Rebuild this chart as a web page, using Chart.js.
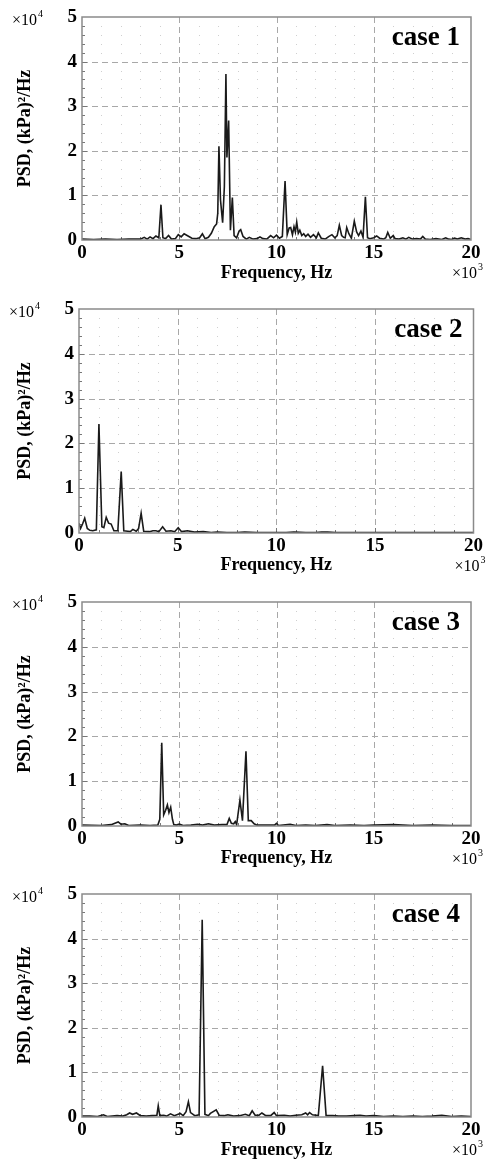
<!DOCTYPE html>
<html>
<head>
<meta charset="utf-8">
<script src="https://cdn.jsdelivr.net/npm/chart.js@4.4.0/dist/chart.umd.min.js"></script>
<style>
  html, body { margin: 0; padding: 0; background: #fff; overflow: hidden; }
  .panel { position: absolute; left: 0; width: 486px; height: 283px; }
</style>
</head>
<body>
<div class="panel" id="p0"><canvas id="c0" width="486" height="283"></canvas></div>
<div class="panel" id="p1"><canvas id="c1" width="486" height="283"></canvas></div>
<div class="panel" id="p2"><canvas id="c2" width="486" height="283"></canvas></div>
<div class="panel" id="p3"><canvas id="c3" width="486" height="283"></canvas></div>
<script>
// labels and ticks
const caseNames = ['case 1', 'case 2', 'case 3', 'case 4'];
const xTicks = [0, 5, 10, 15, 20];      // frequency, x10^3 Hz
const yTicks = [0, 1, 2, 3, 4, 5];      // PSD, x10^4 (kPa)^2/Hz

// [frequency (kHz), PSD (x10^4)]
const case1 = [
  [0, 0.02], [0.6, 0.01], [1.2, 0.02], [1.8, 0.01], [2.4, 0.02], [3.0, 0.02], [3.2, 0.06], [3.35, 0.02],
  [3.5, 0.07], [3.65, 0.03], [3.8, 0.09], [3.95, 0.05], [4.06, 0.79], [4.16, 0.05], [4.3, 0.03], [4.45, 0.1],
  [4.6, 0.02], [4.8, 0.03], [4.95, 0.12], [5.1, 0.07], [5.25, 0.14], [5.45, 0.09], [5.65, 0.04], [5.85, 0.03],
  [6.05, 0.05], [6.19, 0.14], [6.33, 0.03], [6.5, 0.06], [6.65, 0.15], [6.8, 0.3], [6.92, 0.36], [6.98, 0.6],
  [7.04, 2.1], [7.12, 0.9], [7.23, 0.39], [7.32, 1.2], [7.40, 3.72], [7.45, 1.85], [7.54, 2.68], [7.63, 0.22],
  [7.73, 0.95], [7.82, 0.1], [7.95, 0.05], [8.08, 0.2], [8.16, 0.23], [8.28, 0.08], [8.45, 0.02], [8.6, 0.06],
  [8.8, 0.02], [9.0, 0.03], [9.15, 0.07], [9.3, 0.03], [9.5, 0.02], [9.7, 0.1], [9.85, 0.05], [10.0, 0.11],
  [10.15, 0.04], [10.3, 0.08], [10.44, 1.32], [10.55, 0.12], [10.65, 0.27], [10.73, 0.28], [10.82, 0.12], [10.9, 0.3],
  [10.97, 0.18], [11.04, 0.4], [11.12, 0.15], [11.2, 0.22], [11.3, 0.1], [11.4, 0.14], [11.5, 0.08], [11.62, 0.13],
  [11.75, 0.06], [11.9, 0.12], [12.05, 0.05], [12.15, 0.16], [12.3, 0.04], [12.5, 0.02], [12.7, 0.08], [12.85, 0.12],
  [13.0, 0.05], [13.12, 0.1], [13.23, 0.33], [13.35, 0.1], [13.45, 0.06], [13.53, 0.05], [13.61, 0.28], [13.72, 0.14],
  [13.85, 0.04], [14.0, 0.42], [14.12, 0.18], [14.22, 0.1], [14.34, 0.2], [14.45, 0.06], [14.57, 0.97], [14.68, 0.05],
  [14.8, 0.03], [15.0, 0.05], [15.15, 0.09], [15.3, 0.04], [15.5, 0.02], [15.62, 0.05], [15.72, 0.17], [15.85, 0.04],
  [16.0, 0.1], [16.1, 0.03], [16.3, 0.02], [16.5, 0.05], [16.65, 0.02], [16.8, 0.06], [17.0, 0.02], [17.2, 0.03],
  [17.4, 0.02], [17.52, 0.08], [17.65, 0.02], [17.9, 0.01], [18.2, 0.03], [18.5, 0.01], [18.7, 0.05], [18.85, 0.02],
  [19.0, 0.01], [19.15, 0.04], [19.3, 0.02], [19.5, 0.05], [19.7, 0.02], [19.85, 0.03], [20.0, 0.01]
];
const case2 = [
  [0, 0.22], [0.08, 0.1], [0.18, 0.2], [0.29, 0.33], [0.42, 0.1], [0.55, 0.06], [0.7, 0.05], [0.88, 0.07],
  [1.01, 2.43], [1.16, 0.14], [1.26, 0.12], [1.38, 0.35], [1.5, 0.22], [1.63, 0.2], [1.77, 0.05], [1.97, 0.05],
  [2.14, 1.37], [2.27, 0.05], [2.47, 0.04], [2.6, 0.03], [2.73, 0.08], [2.9, 0.04], [3.02, 0.1], [3.15, 0.44],
  [3.28, 0.04], [3.57, 0.03], [3.75, 0.05], [3.9, 0.05], [4.05, 0.03], [4.24, 0.14], [4.41, 0.04], [4.66, 0.05],
  [4.85, 0.03], [5.03, 0.12], [5.2, 0.03], [5.5, 0.05], [5.85, 0.02], [6.3, 0.03], [6.7, 0.01], [7.0, 0.02],
  [7.5, 0.01], [8.0, 0.01], [8.4, 0.02], [9.0, 0.01], [9.5, 0.01], [10.0, 0.01], [10.5, 0.01], [10.9, 0.02],
  [11.5, 0.01], [12.0, 0.01], [12.3, 0.02], [12.6, 0.02], [13.0, 0.01], [14.0, 0.01], [15.0, 0.01], [16.0, 0.01],
  [17.0, 0.01], [18.0, 0.01], [19.0, 0.01], [20.0, 0.01]
];
const case3 = [
  [0, 0.02], [1.0, 0.01], [1.5, 0.03], [1.86, 0.09], [2.0, 0.04], [2.2, 0.05], [2.4, 0.01], [3.0, 0.02],
  [3.5, 0.01], [3.9, 0.02], [4.0, 0.15], [4.1, 1.86], [4.2, 0.25], [4.3, 0.35], [4.39, 0.47], [4.47, 0.3],
  [4.56, 0.42], [4.65, 0.15], [4.72, 0.03], [4.85, 0.02], [5.0, 0.04], [5.2, 0.01], [5.6, 0.02], [5.95, 0.04],
  [6.2, 0.02], [6.5, 0.05], [6.8, 0.02], [7.2, 0.03], [7.45, 0.03], [7.57, 0.17], [7.68, 0.06], [7.8, 0.05],
  [7.88, 0.1], [7.95, 0.03], [8.12, 0.58], [8.25, 0.12], [8.43, 1.67], [8.55, 0.12], [8.7, 0.12], [8.85, 0.05],
  [9.0, 0.02], [9.5, 0.02], [9.9, 0.02], [10.0, 0.06], [10.1, 0.01], [10.7, 0.04], [11.0, 0.01], [11.5, 0.02],
  [12.0, 0.01], [12.6, 0.03], [13.0, 0.01], [13.8, 0.02], [14.5, 0.01], [15.0, 0.02], [16.0, 0.03], [17.0, 0.01],
  [18.0, 0.02], [19.0, 0.01], [20.0, 0.01]
];
const case4 = [
  [0, 0.02], [0.4, 0.02], [0.8, 0.01], [1.1, 0.05], [1.3, 0.01], [1.8, 0.03], [2.1, 0.02], [2.3, 0.05],
  [2.45, 0.09], [2.6, 0.06], [2.8, 0.09], [3.0, 0.03], [3.3, 0.02], [3.6, 0.03], [3.85, 0.04], [3.92, 0.25],
  [4.0, 0.03], [4.2, 0.04], [4.35, 0.02], [4.55, 0.07], [4.75, 0.03], [5.05, 0.08], [5.2, 0.03], [5.35, 0.12],
  [5.47, 0.34], [5.58, 0.1], [5.8, 0.03], [6.02, 0.05], [6.18, 4.42], [6.32, 0.06], [6.5, 0.03], [6.6, 0.08],
  [6.9, 0.16], [7.05, 0.04], [7.3, 0.03], [7.5, 0.05], [7.8, 0.02], [8.1, 0.03], [8.4, 0.06], [8.6, 0.03],
  [8.75, 0.14], [8.9, 0.04], [9.1, 0.04], [9.25, 0.09], [9.45, 0.03], [9.7, 0.03], [9.88, 0.1], [10.0, 0.03],
  [10.4, 0.04], [10.7, 0.02], [11.0, 0.04], [11.3, 0.05], [11.5, 0.09], [11.6, 0.05], [11.7, 0.1], [11.85, 0.05],
  [12.15, 0.03], [12.37, 1.15], [12.55, 0.03], [12.9, 0.03], [13.2, 0.02], [13.6, 0.02], [14.0, 0.03], [14.3, 0.04],
  [14.6, 0.02], [15.0, 0.03], [15.5, 0.01], [16.0, 0.02], [16.5, 0.01], [17.0, 0.02], [17.5, 0.01], [18.0, 0.02],
  [18.5, 0.04], [19.0, 0.01], [19.5, 0.02], [20.0, 0.01]
];
const allCases = [case1, case2, case3, case4];

// plot box of each panel, in page pixels
const boxes = [
  { top: 17,  left: 82, right: 471, bottom: 240 },
  { top: 309, left: 79, right: 475, bottom: 533 },
  { top: 602, left: 82, right: 471, bottom: 826 },
  { top: 894, left: 82, right: 471, bottom: 1117 }
];
const PANEL_H = 283;
const SERIF = "'Liberation Serif', 'Times New Roman', serif";

// dashed major grid + dotted minor grid + inner ticks + frame
const gridPlugin = {
  id: 'psdGrid',
  beforeDatasetsDraw(chart) {
    const { ctx, chartArea: a, scales: { x, y } } = chart;
    ctx.save();
    // minor dots
    ctx.fillStyle = '#cfcfcf';
    for (let fx = 1; fx < 20; fx++) {
      if (fx % 5 === 0) continue;
      const px = Math.round(x.getPixelForValue(fx));
      for (let k = 1; k < 25; k++) {
        if (k % 5 === 0) continue;
        const py = Math.round(y.getPixelForValue(k * 0.2));
        ctx.fillRect(px, py, 1, 1);
      }
    }
    // major dashed lines
    ctx.strokeStyle = '#a8a8a8';
    ctx.lineWidth = 1;
    ctx.setLineDash([6, 4]);
    xTicks.slice(1, -1).forEach(v => {
      const px = Math.round(x.getPixelForValue(v)) + 0.5;
      ctx.beginPath(); ctx.moveTo(px, a.top); ctx.lineTo(px, a.bottom); ctx.stroke();
    });
    yTicks.slice(1, -1).forEach(v => {
      const py = Math.round(y.getPixelForValue(v)) + 0.5;
      ctx.beginPath(); ctx.moveTo(a.left, py); ctx.lineTo(a.right, py); ctx.stroke();
    });
    ctx.setLineDash([]);
    // inner ticks
    ctx.strokeStyle = '#777';
    ctx.beginPath();
    for (let k = 1; k < 25; k++) {
      const py = Math.round(y.getPixelForValue(k * 0.2)) + 0.5;
      const len = k % 5 === 0 ? 5 : 3;
      ctx.moveTo(a.left, py); ctx.lineTo(a.left + len, py);
    }
    for (let fx = 1; fx < 20; fx++) {
      const px = Math.round(x.getPixelForValue(fx)) + 0.5;
      const len = fx % 5 === 0 ? 5 : 3;
      ctx.moveTo(px, a.bottom); ctx.lineTo(px, a.bottom - len);
    }
    ctx.stroke();
    ctx.restore();
  },
  afterDatasetsDraw(chart) {
    const { ctx, chartArea: a } = chart;
    ctx.save();
    ctx.strokeStyle = '#8a8a8a';
    ctx.lineWidth = 1.5;
    ctx.strokeRect(a.left, a.top, a.right - a.left, a.bottom - a.top);
    ctx.restore();
  }
};

// "case N" label and the x10 exponent marks
const labelPlugin = {
  id: 'psdLabels',
  afterDraw(chart, args, opts) {
    const { ctx, chartArea: a } = chart;
    ctx.save();
    ctx.fillStyle = '#000';
    ctx.textBaseline = 'alphabetic';
    ctx.textAlign = 'right';
    ctx.font = 'bold 27px ' + SERIF;
    ctx.fillText(opts.name, a.right - 11, a.top + 28);

    const power = (x0, y0, exp) => {
      ctx.textAlign = 'left';
      ctx.font = '16px ' + SERIF;
      ctx.fillText('\u00d710', x0, y0);
      const w = ctx.measureText('\u00d710').width;
      ctx.font = '10px ' + SERIF;
      ctx.fillText(exp, x0 + w + 1, y0 - 8);
    };
    power(a.left - 70, a.top + 8, '4');
    power(a.right - 19, a.bottom + 38, '3');
    ctx.restore();
  }
};

allCases.forEach((pts, i) => {
  const b = boxes[i];
  const panelTop = b.top - 17;
  document.getElementById('p' + i).style.top = panelTop + 'px';
  const plotBottom = b.bottom - panelTop;

  new Chart(document.getElementById('c' + i), {
    type: 'scatter',
    data: {
      datasets: [{
        data: pts.map(([f, p]) => ({ x: f, y: p })),
        showLine: true,
        borderColor: '#1a1a1a',
        borderWidth: 1.6,
        pointRadius: 0,
        tension: 0,
        fill: false
      }]
    },
    options: {
      responsive: false,
      animation: false,
      events: [],
      layout: { padding: { top: 17, right: 486 - b.right, left: 0, bottom: 0 } },
      plugins: {
        legend: { display: false },
        tooltip: { enabled: false },
        psdLabels: { name: caseNames[i] }
      },
      scales: {
        x: {
          type: 'linear',
          min: 0,
          max: 20,
          afterBuildTicks: s => { s.ticks = xTicks.map(v => ({ value: v })); },
          afterFit: s => { s.height = PANEL_H - plotBottom; },
          grid: { display: false, drawTicks: false },
          border: { display: false },
          ticks: {
            color: '#000',
            padding: 3,
            maxRotation: 0,
            autoSkip: false,
            font: { family: SERIF, size: 19, weight: 'bold', lineHeight: 1.1 }
          },
          title: {
            display: true,
            text: 'Frequency, Hz',
            color: '#000',
            padding: 0,
            font: { family: SERIF, size: 18, weight: 'bold', lineHeight: 1.1 }
          }
        },
        y: {
          type: 'linear',
          min: 0,
          max: 5,
          afterBuildTicks: s => { s.ticks = yTicks.map(v => ({ value: v })); },
          afterFit: s => { s.width = b.left; },
          grid: { display: false, drawTicks: false },
          border: { display: false },
          ticks: {
            color: '#000',
            padding: 5,
            font: { family: SERIF, size: 19, weight: 'bold', lineHeight: 1.1 }
          },
          title: {
            display: true,
            text: 'PSD, (kPa)\u00b2/Hz',
            color: '#000',
            padding: { top: 15, bottom: 0 },
            font: { family: SERIF, size: 18, weight: 'bold', lineHeight: 1.1 }
          }
        }
      }
    },
    plugins: [gridPlugin, labelPlugin]
  });
});
</script>
</body>
</html>
